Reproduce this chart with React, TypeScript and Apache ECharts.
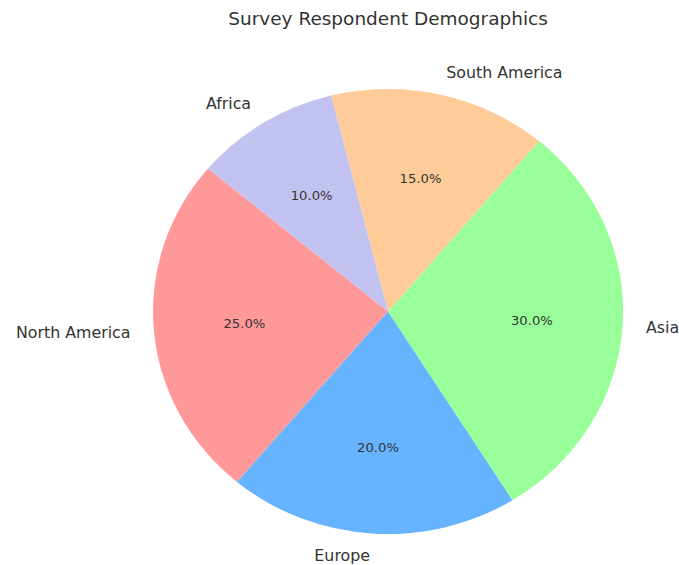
import React, { useEffect, useRef } from "react";
import * as echarts from "echarts";

const categories = ["North America", "Europe", "Asia", "South America", "Africa"];
const shares = [25, 20, 30, 15, 10];
const colors = ["#ff9999", "#66b3ff", "#99ff99", "#ffcc99", "#c2c2f0"];
const titleText = "Survey Respondent Demographics";

const SX = 1.0562;
const W = 643;
const H = 565;
const CX = 367.4;
const CY = 311.5;
const R = 222.5;

export default function App() {
  const ref = useRef<HTMLDivElement>(null);
  useEffect(() => {
    if (!ref.current) return;
    const chart = echarts.init(ref.current, undefined, { renderer: "svg" });
    const data = categories.map((c, i) => ({
      name: c,
      value: shares[i],
      itemStyle: { color: colors[i] },
    }));
    const font = "'DejaVu Sans', sans-serif";
    chart.setOption({
      animation: false,
      backgroundColor: "#ffffff",
      title: {
        text: titleText,
        left: CX,
        top: 10,
        textAlign: "center",
        padding: 0,
        textStyle: { fontFamily: font, fontSize: 17.5, fontWeight: "normal", color: "#333333" },
      },
      series: [
        {
          type: "pie",
          center: [CX, CY],
          radius: [0, R],
          startAngle: 140,
          clockwise: false,
          avoidLabelOverlap: false,
          silent: true,
          emphasis: { disabled: true },
          itemStyle: { borderWidth: 0 },
          label: {
            show: true,
            position: "outside",
            formatter: "{b}",
            fontFamily: font,
            fontSize: 15,
            color: "#333333",
            distanceToLabelLine: 0,
          },
          labelLine: { show: false, length: R * 0.1, length2: 0 },
          data,
        },
        {
          type: "pie",
          center: [CX, CY],
          radius: [R * 0.2, R],
          startAngle: 140,
          clockwise: false,
          avoidLabelOverlap: false,
          silent: true,
          z: 5,
          emphasis: { disabled: true },
          itemStyle: { color: "rgba(0,0,0,0)", borderWidth: 0 },
          label: {
            show: true,
            position: "inside",
            formatter: (p: any) => p.value.toFixed(1) + "%",
            fontFamily: font,
            fontSize: 12.5,
            color: "#333333",
          },
          labelLine: { show: false },
          data: categories.map((c, i) => ({ name: c, value: shares[i] })),
        },
      ],
    });
    return () => chart.dispose();
  }, []);
  return (
    <div
      style={{
        position: "fixed",
        left: 0,
        top: 0,
        width: 679,
        height: 565,
        overflow: "hidden",
        background: "#ffffff",
      }}
    >
      <div
        ref={ref}
        style={{
          width: W,
          height: H,
          transform: `scaleX(${SX})`,
          transformOrigin: "0 0",
        }}
      />
    </div>
  );
}
